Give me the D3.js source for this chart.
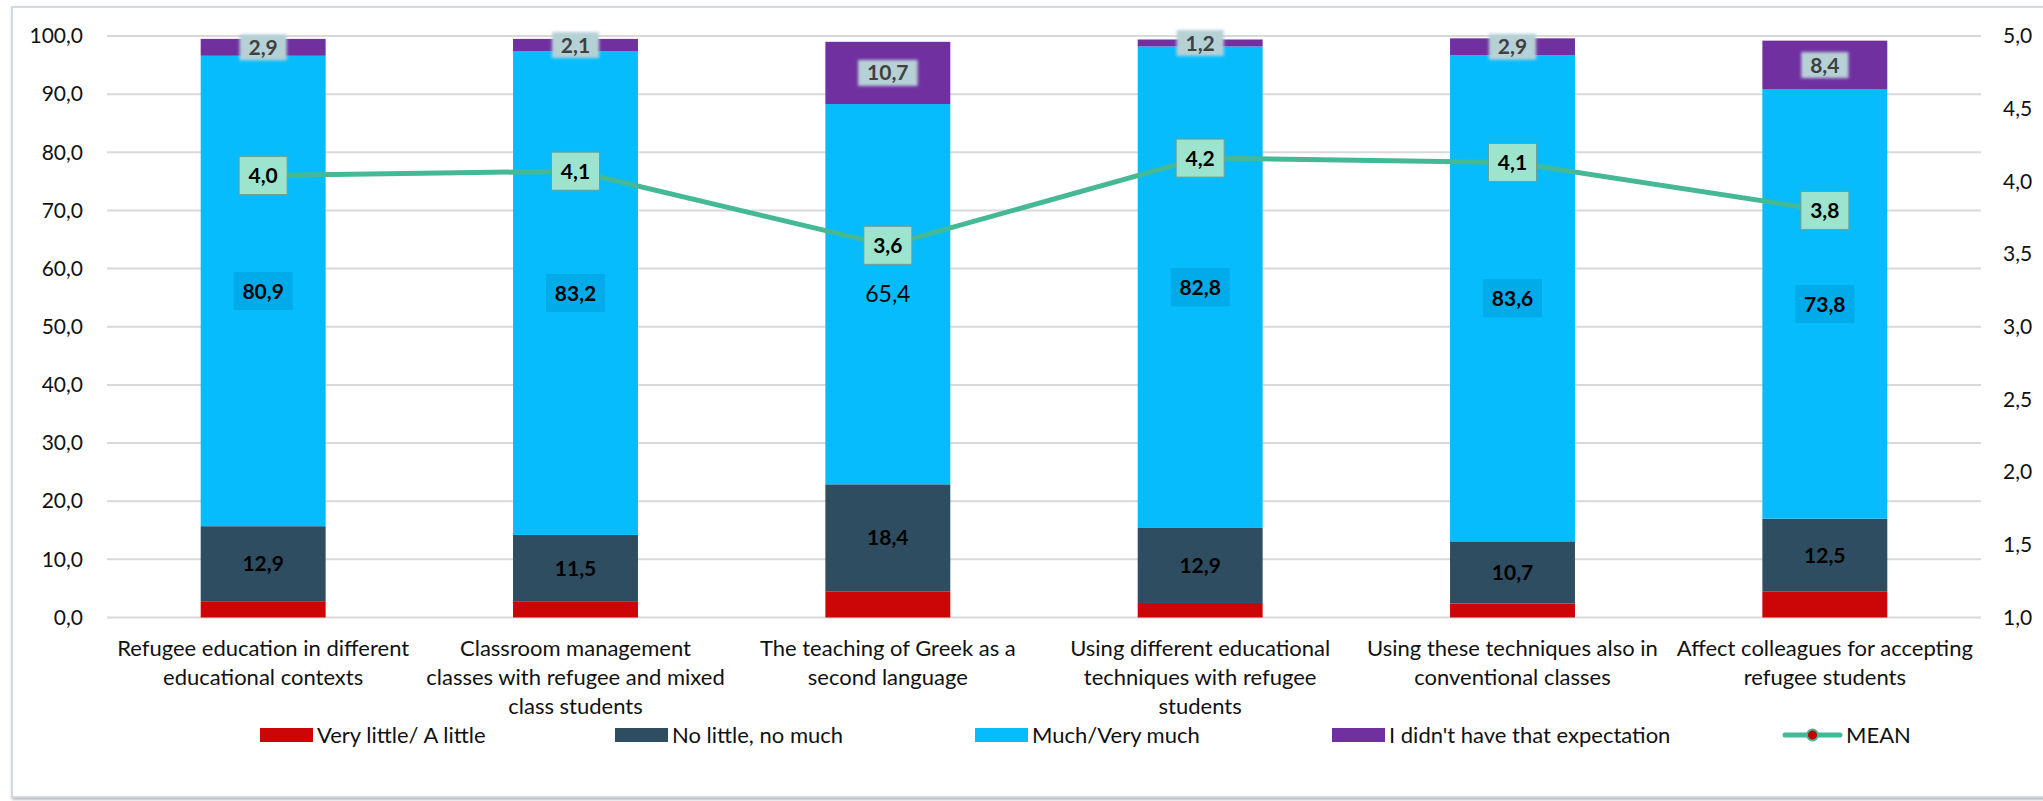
<!DOCTYPE html>
<html>
<head>
<meta charset="utf-8">
<script src="https://cdn.jsdelivr.net/npm/d3@7"></script>
<style>
  html, body { margin: 0; padding: 0; background: #fff; }
  svg { display: block; font-family: Lato, "Open Sans", sans-serif; }
</style>
</head>
<body>
<svg id="chart" width="2043" height="801"></svg>
<script>
// category labels, already broken into lines the way the original wraps them
const categories = [
    ["Refugee education in different", "educational contexts"],
    ["Classroom management", "classes with refugee and mixed", "class students"],
    ["The teaching of Greek as a", "second language"],
    ["Using different educational", "techniques with refugee", "students"],
    ["Using these techniques also in", "conventional classes"],
    ["Affect colleagues for accepting", "refugee students"]
];
const seriesNames = ["Very little/ A little", "No little, no much", "Much/Very much", "I didn't have that expectation"];
const veryLittle = [2.8, 2.7, 4.5, 2.5, 2.4, 4.5];
const noMuch = [12.9, 11.5, 18.4, 12.9, 10.7, 12.5];
const much = [80.9, 83.2, 65.4, 82.8, 83.6, 73.8];
const noExpectation = [2.9, 2.1, 10.7, 1.2, 2.9, 8.4];
const meanValues = [4.04, 4.07, 3.56, 4.16, 4.13, 3.80];
const leftTicks = [0, 10, 20, 30, 40, 50, 60, 70, 80, 90, 100];
const rightTicks = [1.0, 1.5, 2.0, 2.5, 3.0, 3.5, 4.0, 4.5, 5.0];

(function () {
    const svg = d3.select("#chart");
    const colors = ["#cc0606", "#2e4d61", "#06bcfd", "#7030a0"];
    const lineColor = "#45b995";
    const fmt = v => d3.format(".1f")(v).replace(".", ",");

    const keys = categories.map(c => c.join(" "));
    const rows = keys.map((k, i) => ({
        key: k,
        s0: veryLittle[i], s1: noMuch[i], s2: much[i], s3: noExpectation[i],
        mean: meanValues[i]
    }));

    const plot = { left: 107, right: 1981, top: 36, bottom: 617.5 };

    const x = d3.scaleBand().domain(keys).range([plot.left, plot.right])
        .paddingInner(0.6).paddingOuter(0.3);
    const y = d3.scaleLinear().domain([0, 100]).range([plot.bottom, plot.top]);
    const y2 = d3.scaleLinear().domain([1, 5]).range([plot.bottom, plot.top]);

    // chart frame with a soft shadow
    const defs = svg.append("defs");
    const sh = defs.append("filter").attr("id", "shadow")
        .attr("x", "-2%").attr("y", "-2%").attr("width", "104%").attr("height", "104%");
    sh.append("feDropShadow").attr("dx", 1).attr("dy", 1.5).attr("stdDeviation", 1.5)
        .attr("flood-color", "#5a6b7c").attr("flood-opacity", 0.55);
    const glow = defs.append("filter").attr("id", "glow")
        .attr("x", "-30%").attr("y", "-30%").attr("width", "160%").attr("height", "160%");
    glow.append("feGaussianBlur").attr("stdDeviation", 1.6);

    svg.append("rect")
        .attr("x", 12).attr("y", 7).attr("width", 2040).attr("height", 790)
        .attr("fill", "#fff").attr("stroke", "#d6d9dc").attr("stroke-width", 2)
        .attr("filter", "url(#shadow)");

    // === gridlines ===
    svg.append("g")
        .selectAll("line").data(leftTicks).join("line")
        .attr("x1", plot.left).attr("x2", plot.right)
        .attr("y1", d => y(d)).attr("y2", d => y(d))
        .attr("stroke", "#d9d9d9").attr("stroke-width", 2);

    // === axes ===
    const yAxisL = svg.append("g").attr("transform", `translate(${plot.left},0)`)
        .call(d3.axisLeft(y).tickValues(leftTicks).tickFormat(fmt).tickSize(0).tickPadding(24));
    const yAxisR = svg.append("g").attr("transform", `translate(${plot.right},0)`)
        .call(d3.axisRight(y2).tickValues(rightTicks).tickFormat(fmt).tickSize(0).tickPadding(22));
    [yAxisL, yAxisR].forEach(a => {
        a.select(".domain").remove();
        a.selectAll("text").attr("font-size", 21).attr("fill", "#111")
            .attr("font-family", "Lato, sans-serif");
    });

    // === stacked bars ===
    const stack = d3.stack().keys(["s0", "s1", "s2", "s3"])(rows);
    const layers = svg.append("g").selectAll("g").data(stack).join("g")
        .attr("fill", (d, i) => colors[i]);
    layers.selectAll("rect").data(d => d).join("rect")
        .attr("x", d => x(d.data.key))
        .attr("width", x.bandwidth())
        .attr("y", d => y(d[1]))
        .attr("height", d => y(d[0]) - y(d[1]));

    // === segment labels ===
    const labels = svg.append("g").attr("font-family", "Lato, sans-serif");

    // "no little, no much" labels
    labels.selectAll(".lbl1").data(stack[1]).join("text")
        .attr("x", d => x(d.data.key) + x.bandwidth() / 2)
        .attr("y", d => (y(d[0]) + y(d[1])) / 2)
        .attr("dy", "0.36em").attr("text-anchor", "middle")
        .attr("font-size", 21).attr("font-weight", 700).attr("fill", "#000")
        .text(d => fmt(d.data.s1));

    // "much" labels, boxed except the plain one in the third bar
    const muchG = labels.selectAll(".lbl2").data(stack[2]).join("g")
        .attr("transform", d => `translate(${x(d.data.key) + x.bandwidth() / 2},${(y(d[0]) + y(d[1])) / 2})`);
    muchG.filter((d, i) => i !== 2).append("rect")
        .attr("x", -29.5).attr("y", -19).attr("width", 59).attr("height", 38)
        .attr("fill", "#01aae8");
    muchG.append("text")
        .attr("dy", "0.36em").attr("text-anchor", "middle")
        .attr("font-size", (d, i) => i === 2 ? 23 : 21)
        .attr("font-weight", (d, i) => i === 2 ? 400 : 700)
        .attr("fill", "#000")
        .text(d => fmt(d.data.s2));

    // "no expectation" labels with a soft glow box
    const expG = labels.selectAll(".lbl3").data(stack[3]).join("g")
        .attr("transform", d => `translate(${x(d.data.key) + x.bandwidth() / 2},${(y(d[0]) + y(d[1])) / 2})`);
    expG.append("rect")
        .attr("x", d => -(fmt(d.data.s3).length * 6.2 + 5)).attr("y", -13)
        .attr("width", d => 2 * (fmt(d.data.s3).length * 6.2 + 5)).attr("height", 26)
        .attr("fill", "#b6d1d6").attr("filter", "url(#glow)");
    expG.append("text")
        .attr("dy", "0.36em").attr("text-anchor", "middle")
        .attr("font-size", 21).attr("font-weight", 700).attr("fill", "#404040")
        .text(d => fmt(d.data.s3));

    // === mean line ===
    const cx = d => x(d.key) + x.bandwidth() / 2;
    svg.append("path").datum(rows)
        .attr("fill", "none").attr("stroke", lineColor).attr("stroke-width", 5)
        .attr("stroke-linejoin", "round")
        .attr("d", d3.line().x(cx).y(d => y2(d.mean)));

    const meanG = svg.append("g").selectAll("g").data(rows).join("g")
        .attr("transform", d => `translate(${cx(d)},${y2(d.mean)})`);
    meanG.append("rect")
        .attr("x", -24).attr("y", -19).attr("width", 48).attr("height", 38)
        .attr("fill", "#9de4cf").attr("stroke", "#6f9f96").attr("stroke-width", 1);
    meanG.append("text")
        .attr("dy", "0.36em").attr("text-anchor", "middle")
        .attr("font-size", 21).attr("font-weight", 700).attr("fill", "#000")
        .attr("font-family", "Lato, sans-serif")
        .text(d => fmt(d.mean));

    // === category labels ===
    const catG = svg.append("g").attr("font-size", 22).attr("fill", "#111")
        .attr("text-anchor", "middle");
    categories.forEach((lines, i) => {
        const t = catG.append("text")
            .attr("x", x(keys[i]) + x.bandwidth() / 2)
            .attr("y", 656);
        lines.forEach((ln, j) => {
            t.append("tspan").attr("x", x(keys[i]) + x.bandwidth() / 2)
                .attr("dy", j === 0 ? 0 : 29).text(ln);
        });
    });

    // === legend ===
    const legendX = [260, 615, 975, 1332];
    const leg = svg.append("g").attr("font-size", 22).attr("fill", "#111");
    seriesNames.forEach((name, i) => {
        leg.append("rect").attr("x", legendX[i]).attr("y", 728)
            .attr("width", 53).attr("height", 14).attr("fill", colors[i]);
        leg.append("text").attr("x", legendX[i] + 57).attr("y", 743).text(name);
    });
    leg.append("line").attr("x1", 1785).attr("x2", 1840).attr("y1", 735).attr("y2", 735)
        .attr("stroke", lineColor).attr("stroke-width", 5).attr("stroke-linecap", "round");
    leg.append("circle").attr("cx", 1812.5).attr("cy", 735).attr("r", 5.5)
        .attr("fill", "#c00000").attr("stroke", lineColor).attr("stroke-width", 2);
    leg.append("text").attr("x", 1846).attr("y", 743).text("MEAN");
})();
</script>
</body>
</html>
